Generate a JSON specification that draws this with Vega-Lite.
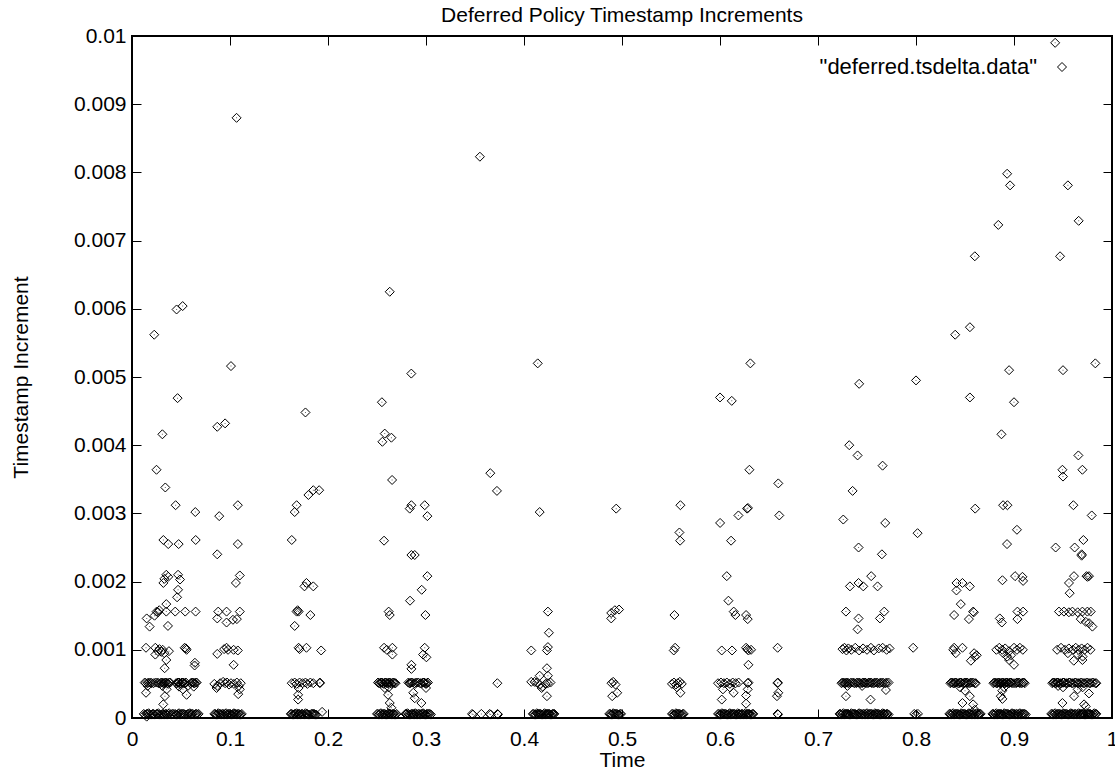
{
  "$schema": "https://vega.github.io/schema/vega-lite/v6.json",
  "width": 980,
  "height": 682,
  "autosize": {"type": "none"},
  "padding": {"left": 132, "top": 36, "right": 3, "bottom": 57},
  "background": "white",
  "config": {"view": {"stroke": "black", "strokeWidth": 2}, "font": "Liberation Sans"},
  "title": {"text": "Deferred Policy Timestamp Increments", "font": "Liberation Sans", "fontSize": 21, "fontWeight": "normal", "color": "black", "anchor": "middle", "baseline": "alphabetic", "offset": 3, "dy": 21},
  "data": {"values": [
    {"t":0.012,"d":0.00006},{"t":0.015,"d":0.00002},{"t":0.015,"d":0.00006},{"t":0.017,"d":0.00007},{"t":0.02,"d":0.00005},{"t":0.022,"d":0.00006},{"t":0.025,"d":0.00006},{"t":0.027,"d":0.00007},{"t":0.03,"d":0.00005},{"t":0.032,"d":0.00006},{"t":0.034,"d":0.00006},{"t":0.036,"d":0.00005},{"t":0.038,"d":0.00007},{"t":0.041,"d":0.00006},{"t":0.044,"d":0.00006},{"t":0.046,"d":0.00005},{"t":0.048,"d":0.00007},{"t":0.05,"d":0.00006},{"t":0.052,"d":0.00006},{"t":0.054,"d":0.00005},{"t":0.057,"d":0.00006},{"t":0.059,"d":0.00007},{"t":0.061,"d":0.00006},{"t":0.064,"d":0.00005},{"t":0.066,"d":0.00006},{"t":0.068,"d":0.00006},
    {"t":0.013,"d":0.00005},{"t":0.016,"d":0.00006},{"t":0.018,"d":0.00005},{"t":0.021,"d":0.00006},{"t":0.023,"d":0.00005},{"t":0.026,"d":0.00006},{"t":0.028,"d":0.00005},{"t":0.031,"d":0.00006},{"t":0.033,"d":0.00005},{"t":0.035,"d":0.00006},{"t":0.037,"d":0.00006},{"t":0.04,"d":0.00005},{"t":0.042,"d":0.00006},{"t":0.045,"d":0.00005},{"t":0.047,"d":0.00006},{"t":0.049,"d":0.00005},{"t":0.051,"d":0.00006},{"t":0.053,"d":0.00006},{"t":0.056,"d":0.00005},{"t":0.058,"d":0.00006},{"t":0.06,"d":0.00005},{"t":0.062,"d":0.00006},{"t":0.065,"d":0.00006},{"t":0.067,"d":0.00005},
    {"t":0.013,"d":0.00052},{"t":0.016,"d":0.00051},{"t":0.019,"d":0.00052},{"t":0.022,"d":0.00051},{"t":0.026,"d":0.00052},{"t":0.029,"d":0.00051},{"t":0.031,"d":0.00052},{"t":0.033,"d":0.00051},{"t":0.035,"d":0.00052},{"t":0.037,"d":0.0005},{"t":0.039,"d":0.00052},{"t":0.045,"d":0.00051},{"t":0.047,"d":0.00052},{"t":0.049,"d":0.0005},{"t":0.051,"d":0.00052},{"t":0.053,"d":0.00051},{"t":0.055,"d":0.00052},{"t":0.06,"d":0.00051},{"t":0.062,"d":0.00052},{"t":0.064,"d":0.00051},{"t":0.066,"d":0.00052},{"t":0.016,"d":0.00047},{"t":0.031,"d":0.00047},{"t":0.048,"d":0.00046},{"t":0.057,"d":0.00047},{"t":0.063,"d":0.00046},{"t":0.0143,"d":0.00037},{"t":0.0336,"d":0.00032},{"t":0.0319,"d":0.0002},{"t":0.0353,"d":0.00042},{"t":0.052,"d":0.00042},{"t":0.0557,"d":0.00034},
    {"t":0.014,"d":0.00051},{"t":0.017,"d":0.00052},{"t":0.02,"d":0.00051},{"t":0.024,"d":0.00052},{"t":0.027,"d":0.00051},{"t":0.03,"d":0.00052},{"t":0.032,"d":0.00051},{"t":0.034,"d":0.00052},{"t":0.036,"d":0.00051},{"t":0.038,"d":0.00052},{"t":0.046,"d":0.00051},{"t":0.048,"d":0.00052},{"t":0.05,"d":0.00051},{"t":0.052,"d":0.00052},{"t":0.054,"d":0.00051},{"t":0.061,"d":0.00052},{"t":0.063,"d":0.00051},{"t":0.065,"d":0.00052},
    {"t":0.0143,"d":0.00103},{"t":0.0238,"d":0.00103},{"t":0.0313,"d":0.001},{"t":0.0265,"d":0.00098},{"t":0.0238,"d":0.00093},{"t":0.0377,"d":0.00098},{"t":0.035,"d":0.00085},{"t":0.0333,"d":0.00073},{"t":0.0557,"d":0.001},{"t":0.0537,"d":0.00103},{"t":0.0642,"d":0.00081},{"t":0.0639,"d":0.00077},{"t":0.028,"d":0.00101},{"t":0.03,"d":0.00097},{"t":0.033,"d":0.00095},{"t":0.055,"d":0.00102},
    {"t":0.015,"d":0.00146},{"t":0.0251,"d":0.00156},{"t":0.0265,"d":0.00155},{"t":0.035,"d":0.00156},{"t":0.0441,"d":0.00156},{"t":0.0543,"d":0.00156},{"t":0.0649,"d":0.00156},{"t":0.018,"d":0.00134},{"t":0.0367,"d":0.00135},{"t":0.0278,"d":0.00158},{"t":0.023,"d":0.0015},
    {"t":0.035,"d":0.0021},{"t":0.037,"d":0.00207},{"t":0.032,"d":0.00198},{"t":0.047,"d":0.0021},{"t":0.049,"d":0.00203},{"t":0.047,"d":0.00188},{"t":0.046,"d":0.00177},{"t":0.035,"d":0.00167},{"t":0.033,"d":0.00204},
    {"t":0.032,"d":0.00261},{"t":0.037,"d":0.00255},{"t":0.0476,"d":0.00255},{"t":0.065,"d":0.00261},{"t":0.0445,"d":0.00312},{"t":0.0646,"d":0.00302},{"t":0.034,"d":0.00338},{"t":0.025,"d":0.00364},{"t":0.031,"d":0.00416},{"t":0.0227,"d":0.00562},{"t":0.0455,"d":0.00599},{"t":0.0517,"d":0.00604},{"t":0.0465,"d":0.00469},
    {"t":0.084,"d":0.00006},{"t":0.086,"d":0.00005},{"t":0.088,"d":0.00007},{"t":0.09,"d":0.00006},{"t":0.092,"d":0.00006},{"t":0.094,"d":0.00005},{"t":0.096,"d":0.00007},{"t":0.098,"d":0.00006},{"t":0.1,"d":0.00006},{"t":0.102,"d":0.00005},{"t":0.104,"d":0.00007},{"t":0.106,"d":0.00006},{"t":0.108,"d":0.00006},{"t":0.11,"d":0.00005},{"t":0.112,"d":0.00006},
    {"t":0.085,"d":0.00006},{"t":0.087,"d":0.00005},{"t":0.089,"d":0.00006},{"t":0.091,"d":0.00005},{"t":0.093,"d":0.00006},{"t":0.095,"d":0.00006},{"t":0.097,"d":0.00005},{"t":0.099,"d":0.00006},{"t":0.101,"d":0.00005},{"t":0.103,"d":0.00006},{"t":0.105,"d":0.00006},{"t":0.107,"d":0.00005},{"t":0.109,"d":0.00006},{"t":0.111,"d":0.00005},
    {"t":0.084,"d":0.0005},{"t":0.087,"d":0.00047},{"t":0.09,"d":0.00051},{"t":0.093,"d":0.00053},{"t":0.095,"d":0.00051},{"t":0.097,"d":0.00052},{"t":0.099,"d":0.00049},{"t":0.101,"d":0.00051},{"t":0.104,"d":0.0005},{"t":0.107,"d":0.00052},{"t":0.109,"d":0.00047},{"t":0.111,"d":0.00051},{"t":0.0863,"d":0.00044},{"t":0.1084,"d":0.00035},{"t":0.11,"d":0.00042},
    {"t":0.087,"d":0.00094},{"t":0.0965,"d":0.00103},{"t":0.098,"d":0.001},{"t":0.1037,"d":0.001},{"t":0.108,"d":0.00099},{"t":0.1037,"d":0.00078},{"t":0.094,"d":0.00101},
    {"t":0.088,"d":0.00156},{"t":0.0965,"d":0.00156},{"t":0.11,"d":0.00156},{"t":0.087,"d":0.00146},{"t":0.0965,"d":0.0014},{"t":0.103,"d":0.00144},{"t":0.107,"d":0.00145},
    {"t":0.11,"d":0.00209},{"t":0.106,"d":0.00198},{"t":0.108,"d":0.00312},{"t":0.089,"d":0.00296},{"t":0.108,"d":0.00255},{"t":0.087,"d":0.0024},{"t":0.087,"d":0.00427},{"t":0.095,"d":0.00432},{"t":0.101,"d":0.00516},{"t":0.1067,"d":0.0088},
    {"t":0.162,"d":0.00006},{"t":0.164,"d":0.00005},{"t":0.166,"d":0.00006},{"t":0.168,"d":0.00007},{"t":0.17,"d":0.00006},{"t":0.172,"d":0.00005},{"t":0.174,"d":0.00006},{"t":0.177,"d":0.00007},{"t":0.179,"d":0.00006},{"t":0.181,"d":0.00005},{"t":0.184,"d":0.00006},{"t":0.186,"d":0.00006},{"t":0.188,"d":0.00005},{"t":0.194,"d":0.00009},
    {"t":0.163,"d":0.00006},{"t":0.165,"d":0.00005},{"t":0.167,"d":0.00006},{"t":0.169,"d":0.00005},{"t":0.171,"d":0.00006},{"t":0.173,"d":0.00006},{"t":0.176,"d":0.00005},{"t":0.178,"d":0.00006},{"t":0.18,"d":0.00005},{"t":0.183,"d":0.00006},{"t":0.185,"d":0.00006},{"t":0.187,"d":0.00005},
    {"t":0.163,"d":0.00051},{"t":0.166,"d":0.00052},{"t":0.168,"d":0.0005},{"t":0.171,"d":0.00052},{"t":0.174,"d":0.00051},{"t":0.177,"d":0.00052},{"t":0.179,"d":0.0005},{"t":0.182,"d":0.00052},{"t":0.185,"d":0.00051},{"t":0.1917,"d":0.00052},{"t":0.1917,"d":0.00051},{"t":0.1695,"d":0.00034},{"t":0.1695,"d":0.00027},{"t":0.17,"d":0.00044},
    {"t":0.17,"d":0.00103},{"t":0.178,"d":0.00103},{"t":0.193,"d":0.00099},{"t":0.171,"d":0.00101},
    {"t":0.168,"d":0.00156},{"t":0.17,"d":0.00156},{"t":0.182,"d":0.00151},{"t":0.166,"d":0.00135},{"t":0.169,"d":0.00158},
    {"t":0.178,"d":0.00198},{"t":0.176,"d":0.00193},{"t":0.185,"d":0.00193},
    {"t":0.163,"d":0.00261},{"t":0.168,"d":0.00312},{"t":0.166,"d":0.00302},{"t":0.18,"d":0.00327},{"t":0.185,"d":0.00334},{"t":0.191,"d":0.00334},{"t":0.177,"d":0.00448},
    {"t":0.25,"d":0.00006},{"t":0.252,"d":0.00005},{"t":0.254,"d":0.00007},{"t":0.256,"d":0.00006},{"t":0.258,"d":0.00006},{"t":0.26,"d":0.00005},{"t":0.262,"d":0.00007},{"t":0.264,"d":0.00006},{"t":0.266,"d":0.00006},{"t":0.268,"d":0.00005},{"t":0.27,"d":0.00006},{"t":0.279,"d":0.00006},{"t":0.281,"d":0.00007},{"t":0.283,"d":0.00005},{"t":0.285,"d":0.00006},{"t":0.287,"d":0.00006},{"t":0.289,"d":0.00007},{"t":0.291,"d":0.00005},{"t":0.293,"d":0.00006},{"t":0.295,"d":0.00006},{"t":0.297,"d":0.00007},{"t":0.299,"d":0.00005},{"t":0.301,"d":0.00006},{"t":0.303,"d":0.00006},{"t":0.305,"d":0.00005},
    {"t":0.251,"d":0.00006},{"t":0.253,"d":0.00006},{"t":0.255,"d":0.00005},{"t":0.257,"d":0.00006},{"t":0.259,"d":0.00005},{"t":0.261,"d":0.00006},{"t":0.263,"d":0.00006},{"t":0.265,"d":0.00005},{"t":0.267,"d":0.00006},{"t":0.269,"d":0.00005},{"t":0.28,"d":0.00006},{"t":0.282,"d":0.00006},{"t":0.284,"d":0.00005},{"t":0.286,"d":0.00006},{"t":0.288,"d":0.00005},{"t":0.29,"d":0.00006},{"t":0.292,"d":0.00006},{"t":0.294,"d":0.00005},{"t":0.296,"d":0.00006},{"t":0.298,"d":0.00006},{"t":0.3,"d":0.00005},{"t":0.302,"d":0.00006},{"t":0.304,"d":0.00006},
    {"t":0.251,"d":0.00052},{"t":0.253,"d":0.00051},{"t":0.255,"d":0.00052},{"t":0.257,"d":0.0005},{"t":0.259,"d":0.00052},{"t":0.261,"d":0.00051},{"t":0.263,"d":0.00052},{"t":0.265,"d":0.0005},{"t":0.267,"d":0.00052},{"t":0.269,"d":0.00051},{"t":0.282,"d":0.00052},{"t":0.284,"d":0.00051},{"t":0.286,"d":0.00052},{"t":0.289,"d":0.0005},{"t":0.292,"d":0.00052},{"t":0.295,"d":0.00051},{"t":0.298,"d":0.00052},{"t":0.3,"d":0.0005},{"t":0.302,"d":0.00052},
    {"t":0.252,"d":0.00051},{"t":0.254,"d":0.00052},{"t":0.256,"d":0.00051},{"t":0.258,"d":0.00052},{"t":0.26,"d":0.00051},{"t":0.262,"d":0.00052},{"t":0.264,"d":0.00051},{"t":0.266,"d":0.00052},{"t":0.268,"d":0.00051},{"t":0.283,"d":0.00051},{"t":0.285,"d":0.00052},{"t":0.288,"d":0.00051},{"t":0.29,"d":0.00052},{"t":0.294,"d":0.00051},{"t":0.297,"d":0.00052},{"t":0.299,"d":0.00051},{"t":0.301,"d":0.00051},
    {"t":0.2613,"d":0.00034},{"t":0.263,"d":0.00022},{"t":0.2647,"d":0.00015},{"t":0.2885,"d":0.00029},{"t":0.2953,"d":0.00022},{"t":0.287,"d":0.00037},{"t":0.258,"d":0.00044},{"t":0.262,"d":0.00045},{"t":0.3,"d":0.00044},
    {"t":0.2572,"d":0.00103},{"t":0.2657,"d":0.00103},{"t":0.2657,"d":0.00093},{"t":0.2987,"d":0.00103},{"t":0.3004,"d":0.00089},{"t":0.297,"d":0.00093},{"t":0.2851,"d":0.00078},{"t":0.2851,"d":0.00072},{"t":0.26,"d":0.001},
    {"t":0.2619,"d":0.00156},{"t":0.263,"d":0.00151},{"t":0.2994,"d":0.00151},{"t":0.2837,"d":0.00172},{"t":0.2956,"d":0.00188},{"t":0.3014,"d":0.00208},
    {"t":0.2851,"d":0.00239},{"t":0.2885,"d":0.00239},{"t":0.2572,"d":0.0026},{"t":0.2851,"d":0.00312},{"t":0.2834,"d":0.00307},{"t":0.2987,"d":0.00312},{"t":0.3014,"d":0.00296},{"t":0.2654,"d":0.00349},{"t":0.2579,"d":0.00417},{"t":0.2647,"d":0.00411},{"t":0.2555,"d":0.00405},{"t":0.255,"d":0.00463},{"t":0.263,"d":0.00625},{"t":0.285,"d":0.00505},
    {"t":0.347,"d":0.00006},{"t":0.348,"d":0.00005},{"t":0.3565,"d":0.00006},{"t":0.365,"d":0.00006},{"t":0.366,"d":0.00005},{"t":0.373,"d":0.00006},{"t":0.3734,"d":0.00005},{"t":0.3728,"d":0.00051},{"t":0.3656,"d":0.00359},{"t":0.3724,"d":0.00333},{"t":0.355,"d":0.00823},
    {"t":0.409,"d":0.00006},{"t":0.411,"d":0.00005},{"t":0.413,"d":0.00007},{"t":0.415,"d":0.00006},{"t":0.417,"d":0.00006},{"t":0.419,"d":0.00005},{"t":0.421,"d":0.00007},{"t":0.423,"d":0.00006},{"t":0.425,"d":0.00006},{"t":0.427,"d":0.00005},{"t":0.429,"d":0.00006},{"t":0.431,"d":0.00006},
    {"t":0.41,"d":0.00006},{"t":0.412,"d":0.00005},{"t":0.414,"d":0.00006},{"t":0.416,"d":0.00006},{"t":0.418,"d":0.00005},{"t":0.42,"d":0.00006},{"t":0.422,"d":0.00005},{"t":0.424,"d":0.00006},{"t":0.426,"d":0.00006},{"t":0.428,"d":0.00005},{"t":0.43,"d":0.00006},
    {"t":0.4074,"d":0.00053},{"t":0.4108,"d":0.00053},{"t":0.416,"d":0.00049},{"t":0.419,"d":0.00046},{"t":0.4244,"d":0.00051},{"t":0.418,"d":0.00044},{"t":0.413,"d":0.00052},{"t":0.422,"d":0.0005},{"t":0.427,"d":0.00052},
    {"t":0.4234,"d":0.00032},{"t":0.416,"d":0.00062},{"t":0.4244,"d":0.00062},{"t":0.4234,"d":0.00073},{"t":0.4074,"d":0.00099},{"t":0.4244,"d":0.00104},{"t":0.4234,"d":0.00099},{"t":0.4254,"d":0.00125},{"t":0.4244,"d":0.00156},{"t":0.416,"d":0.00302},{"t":0.414,"d":0.0052},
    {"t":0.487,"d":0.00006},{"t":0.489,"d":0.00005},{"t":0.491,"d":0.00007},{"t":0.493,"d":0.00006},{"t":0.495,"d":0.00006},{"t":0.497,"d":0.00005},{"t":0.499,"d":0.00006},
    {"t":0.488,"d":0.00006},{"t":0.49,"d":0.00005},{"t":0.492,"d":0.00006},{"t":0.494,"d":0.00006},{"t":0.496,"d":0.00005},{"t":0.498,"d":0.00006},
    {"t":0.4893,"d":0.00051},{"t":0.4934,"d":0.00049},{"t":0.491,"d":0.00053},{"t":0.4951,"d":0.00037},{"t":0.49,"d":0.00032},
    {"t":0.489,"d":0.00154},{"t":0.4927,"d":0.00158},{"t":0.497,"d":0.00159},{"t":0.489,"d":0.00146},{"t":0.4941,"d":0.00307},
    {"t":0.551,"d":0.00006},{"t":0.553,"d":0.00005},{"t":0.555,"d":0.00007},{"t":0.557,"d":0.00006},{"t":0.559,"d":0.00006},{"t":0.561,"d":0.00005},{"t":0.563,"d":0.00006},
    {"t":0.552,"d":0.00006},{"t":0.554,"d":0.00005},{"t":0.556,"d":0.00006},{"t":0.558,"d":0.00006},{"t":0.56,"d":0.00005},{"t":0.562,"d":0.00006},
    {"t":0.551,"d":0.0005},{"t":0.553,"d":0.00052},{"t":0.555,"d":0.00049},{"t":0.557,"d":0.00051},{"t":0.559,"d":0.00053},{"t":0.561,"d":0.0005},{"t":0.5596,"d":0.00037},{"t":0.556,"d":0.00045},
    {"t":0.5542,"d":0.00103},{"t":0.5528,"d":0.00099},{"t":0.5535,"d":0.00151},{"t":0.5586,"d":0.00272},{"t":0.5593,"d":0.0026},{"t":0.5596,"d":0.00312},
    {"t":0.598,"d":0.00006},{"t":0.6,"d":0.00005},{"t":0.602,"d":0.00007},{"t":0.604,"d":0.00006},{"t":0.606,"d":0.00006},{"t":0.608,"d":0.00005},{"t":0.61,"d":0.00007},{"t":0.612,"d":0.00006},{"t":0.614,"d":0.00006},{"t":0.616,"d":0.00005},{"t":0.618,"d":0.00007},{"t":0.62,"d":0.00006},{"t":0.622,"d":0.00006},{"t":0.624,"d":0.00005},{"t":0.626,"d":0.00007},{"t":0.628,"d":0.00006},{"t":0.63,"d":0.00006},{"t":0.632,"d":0.00005},{"t":0.634,"d":0.00006},
    {"t":0.599,"d":0.00006},{"t":0.601,"d":0.00005},{"t":0.603,"d":0.00006},{"t":0.605,"d":0.00006},{"t":0.607,"d":0.00005},{"t":0.609,"d":0.00006},{"t":0.611,"d":0.00005},{"t":0.613,"d":0.00006},{"t":0.615,"d":0.00006},{"t":0.617,"d":0.00005},{"t":0.619,"d":0.00006},{"t":0.621,"d":0.00005},{"t":0.623,"d":0.00006},{"t":0.625,"d":0.00006},{"t":0.627,"d":0.00005},{"t":0.629,"d":0.00006},{"t":0.631,"d":0.00005},{"t":0.633,"d":0.00006},
    {"t":0.598,"d":0.00051},{"t":0.601,"d":0.00052},{"t":0.604,"d":0.00051},{"t":0.607,"d":0.00052},{"t":0.61,"d":0.0005},{"t":0.613,"d":0.00052},{"t":0.616,"d":0.00051},{"t":0.619,"d":0.00052},{"t":0.6283,"d":0.00051},{"t":0.629,"d":0.00052},
    {"t":0.603,"d":0.00042},{"t":0.6139,"d":0.00037},{"t":0.6283,"d":0.00042},{"t":0.6266,"d":0.00033},{"t":0.6018,"d":0.00027},{"t":0.6266,"d":0.00021},{"t":0.61,"d":0.00045},
    {"t":0.6018,"d":0.00099},{"t":0.6123,"d":0.00099},{"t":0.6266,"d":0.00103},{"t":0.629,"d":0.00099},{"t":0.6317,"d":0.001},{"t":0.628,"d":0.00101},{"t":0.629,"d":0.00078},
    {"t":0.614,"d":0.00156},{"t":0.6157,"d":0.00151},{"t":0.6266,"d":0.00151},{"t":0.6283,"d":0.00145},{"t":0.6086,"d":0.00172},{"t":0.6069,"d":0.00208},{"t":0.6113,"d":0.0026},{"t":0.6001,"d":0.00286},{"t":0.6188,"d":0.00297},{"t":0.6276,"d":0.00307},{"t":0.6285,"d":0.00308},{"t":0.63,"d":0.00364},{"t":0.6,"d":0.0047},{"t":0.612,"d":0.00465},{"t":0.631,"d":0.0052},
    {"t":0.6588,"d":0.00006},{"t":0.6592,"d":0.00005},{"t":0.6588,"d":0.00051},{"t":0.659,"d":0.00052},{"t":0.6595,"d":0.00037},{"t":0.6581,"d":0.00032},{"t":0.6588,"d":0.00103},{"t":0.6605,"d":0.00297},{"t":0.6595,"d":0.00344},
    {"t":0.722,"d":0.00006},{"t":0.724,"d":0.00005},{"t":0.726,"d":0.00007},{"t":0.728,"d":0.00006},{"t":0.73,"d":0.00006},{"t":0.732,"d":0.00005},{"t":0.734,"d":0.00007},{"t":0.736,"d":0.00006},{"t":0.738,"d":0.00006},{"t":0.74,"d":0.00005},{"t":0.742,"d":0.00007},{"t":0.744,"d":0.00006},{"t":0.746,"d":0.00006},{"t":0.748,"d":0.00005},{"t":0.75,"d":0.00007},{"t":0.752,"d":0.00006},{"t":0.754,"d":0.00006},{"t":0.756,"d":0.00005},{"t":0.758,"d":0.00007},{"t":0.76,"d":0.00006},{"t":0.762,"d":0.00006},{"t":0.764,"d":0.00005},{"t":0.766,"d":0.00007},{"t":0.768,"d":0.00006},{"t":0.77,"d":0.00006},{"t":0.772,"d":0.00005},
    {"t":0.723,"d":0.00006},{"t":0.725,"d":0.00006},{"t":0.727,"d":0.00005},{"t":0.729,"d":0.00006},{"t":0.731,"d":0.00006},{"t":0.733,"d":0.00005},{"t":0.735,"d":0.00006},{"t":0.737,"d":0.00006},{"t":0.739,"d":0.00005},{"t":0.741,"d":0.00006},{"t":0.743,"d":0.00006},{"t":0.745,"d":0.00005},{"t":0.747,"d":0.00006},{"t":0.749,"d":0.00006},{"t":0.751,"d":0.00005},{"t":0.753,"d":0.00006},{"t":0.755,"d":0.00006},{"t":0.757,"d":0.00005},{"t":0.759,"d":0.00006},{"t":0.761,"d":0.00006},{"t":0.763,"d":0.00005},{"t":0.765,"d":0.00006},{"t":0.767,"d":0.00006},{"t":0.769,"d":0.00005},{"t":0.771,"d":0.00006},
    {"t":0.724,"d":0.00051},{"t":0.726,"d":0.00052},{"t":0.728,"d":0.00051},{"t":0.73,"d":0.00052},{"t":0.733,"d":0.00051},{"t":0.736,"d":0.00052},{"t":0.739,"d":0.00051},{"t":0.742,"d":0.00052},{"t":0.745,"d":0.00051},{"t":0.748,"d":0.00052},{"t":0.751,"d":0.00051},{"t":0.754,"d":0.00052},{"t":0.757,"d":0.00051},{"t":0.76,"d":0.00052},{"t":0.763,"d":0.00051},{"t":0.766,"d":0.00052},{"t":0.769,"d":0.00051},{"t":0.772,"d":0.00052},
    {"t":0.725,"d":0.00052},{"t":0.727,"d":0.00051},{"t":0.729,"d":0.00052},{"t":0.731,"d":0.00051},{"t":0.734,"d":0.00052},{"t":0.737,"d":0.00051},{"t":0.74,"d":0.00052},{"t":0.743,"d":0.00051},{"t":0.746,"d":0.00052},{"t":0.749,"d":0.00051},{"t":0.752,"d":0.00052},{"t":0.755,"d":0.00051},{"t":0.758,"d":0.00052},{"t":0.761,"d":0.00051},{"t":0.764,"d":0.00052},{"t":0.767,"d":0.00051},{"t":0.77,"d":0.00052},
    {"t":0.7285,"d":0.00032},{"t":0.7536,"d":0.00027},{"t":0.7693,"d":0.00041},{"t":0.73,"d":0.00047},{"t":0.745,"d":0.00047},
    {"t":0.725,"d":0.00101},{"t":0.727,"d":0.00103},{"t":0.729,"d":0.00099},{"t":0.731,"d":0.00102},{"t":0.734,"d":0.001},{"t":0.738,"d":0.00103},{"t":0.742,"d":0.00099},{"t":0.746,"d":0.00102},{"t":0.75,"d":0.001},{"t":0.754,"d":0.00103},{"t":0.757,"d":0.00099},{"t":0.762,"d":0.00102},{"t":0.766,"d":0.00103},{"t":0.77,"d":0.001},{"t":0.773,"d":0.00102},
    {"t":0.7285,"d":0.00156},{"t":0.7414,"d":0.00146},{"t":0.7404,"d":0.0013},{"t":0.7676,"d":0.00156},{"t":0.7632,"d":0.00146},{"t":0.7326,"d":0.00193},{"t":0.7414,"d":0.00198},{"t":0.7462,"d":0.00193},{"t":0.7608,"d":0.00193},{"t":0.7543,"d":0.00208},{"t":0.7652,"d":0.0024},{"t":0.7414,"d":0.0025},{"t":0.7686,"d":0.00286},{"t":0.7258,"d":0.00291},{"t":0.7353,"d":0.00333},{"t":0.7659,"d":0.0037},{"t":0.7404,"d":0.00385},{"t":0.7319,"d":0.004},{"t":0.742,"d":0.0049},
    {"t":0.7982,"d":0.00006},{"t":0.8,"d":0.00005},{"t":0.802,"d":0.00006},{"t":0.7971,"d":0.00103},{"t":0.8016,"d":0.00271},{"t":0.8,"d":0.00495},
    {"t":0.834,"d":0.00006},{"t":0.836,"d":0.00005},{"t":0.838,"d":0.00007},{"t":0.84,"d":0.00006},{"t":0.842,"d":0.00006},{"t":0.844,"d":0.00005},{"t":0.846,"d":0.00007},{"t":0.848,"d":0.00006},{"t":0.85,"d":0.00006},{"t":0.852,"d":0.00005},{"t":0.854,"d":0.00007},{"t":0.856,"d":0.00006},{"t":0.858,"d":0.00006},{"t":0.86,"d":0.00005},{"t":0.862,"d":0.00007},{"t":0.864,"d":0.00006},{"t":0.866,"d":0.00006},
    {"t":0.835,"d":0.00006},{"t":0.837,"d":0.00006},{"t":0.839,"d":0.00005},{"t":0.841,"d":0.00006},{"t":0.843,"d":0.00006},{"t":0.845,"d":0.00005},{"t":0.847,"d":0.00006},{"t":0.849,"d":0.00006},{"t":0.851,"d":0.00005},{"t":0.853,"d":0.00006},{"t":0.855,"d":0.00006},{"t":0.857,"d":0.00005},{"t":0.859,"d":0.00006},{"t":0.861,"d":0.00006},{"t":0.863,"d":0.00005},{"t":0.865,"d":0.00006},
    {"t":0.835,"d":0.00051},{"t":0.837,"d":0.00052},{"t":0.839,"d":0.00051},{"t":0.841,"d":0.00052},{"t":0.844,"d":0.00051},{"t":0.846,"d":0.00052},{"t":0.849,"d":0.00051},{"t":0.852,"d":0.00052},{"t":0.855,"d":0.00051},{"t":0.858,"d":0.00052},{"t":0.861,"d":0.00051},
    {"t":0.836,"d":0.00052},{"t":0.838,"d":0.00051},{"t":0.84,"d":0.00052},{"t":0.843,"d":0.00051},{"t":0.845,"d":0.00052},{"t":0.848,"d":0.00051},{"t":0.85,"d":0.00052},{"t":0.853,"d":0.00051},{"t":0.856,"d":0.00052},{"t":0.86,"d":0.00051},
    {"t":0.8474,"d":0.00022},{"t":0.8549,"d":0.00032},{"t":0.8583,"d":0.0002},{"t":0.86,"d":0.00012},{"t":0.845,"d":0.00045},{"t":0.85,"d":0.0004},
    {"t":0.8389,"d":0.00103},{"t":0.8474,"d":0.00103},{"t":0.8406,"d":0.00095},{"t":0.8593,"d":0.00095},{"t":0.856,"d":0.00084},{"t":0.86,"d":0.0009},{"t":0.862,"d":0.00092},{"t":0.838,"d":0.001},
    {"t":0.8457,"d":0.00167},{"t":0.8389,"d":0.00151},{"t":0.854,"d":0.00145},{"t":0.8583,"d":0.00156},{"t":0.859,"d":0.00155},
    {"t":0.8413,"d":0.00198},{"t":0.8474,"d":0.00198},{"t":0.8549,"d":0.00193},{"t":0.8413,"d":0.00187},
    {"t":0.8604,"d":0.00307},{"t":0.84,"d":0.00562},{"t":0.855,"d":0.00573},{"t":0.86,"d":0.00677},{"t":0.855,"d":0.0047},
    {"t":0.878,"d":0.00006},{"t":0.88,"d":0.00005},{"t":0.882,"d":0.00007},{"t":0.884,"d":0.00006},{"t":0.886,"d":0.00006},{"t":0.888,"d":0.00005},{"t":0.89,"d":0.00007},{"t":0.892,"d":0.00006},{"t":0.894,"d":0.00006},{"t":0.896,"d":0.00005},{"t":0.898,"d":0.00007},{"t":0.9,"d":0.00006},{"t":0.902,"d":0.00006},{"t":0.904,"d":0.00005},{"t":0.906,"d":0.00007},{"t":0.908,"d":0.00006},{"t":0.91,"d":0.00006},{"t":0.912,"d":0.00005},
    {"t":0.879,"d":0.00006},{"t":0.881,"d":0.00006},{"t":0.883,"d":0.00005},{"t":0.885,"d":0.00006},{"t":0.887,"d":0.00006},{"t":0.889,"d":0.00005},{"t":0.891,"d":0.00006},{"t":0.893,"d":0.00006},{"t":0.895,"d":0.00005},{"t":0.897,"d":0.00006},{"t":0.899,"d":0.00006},{"t":0.901,"d":0.00005},{"t":0.903,"d":0.00006},{"t":0.905,"d":0.00006},{"t":0.907,"d":0.00005},{"t":0.909,"d":0.00006},{"t":0.911,"d":0.00006},
    {"t":0.879,"d":0.00051},{"t":0.881,"d":0.00052},{"t":0.883,"d":0.00051},{"t":0.885,"d":0.00052},{"t":0.887,"d":0.00051},{"t":0.889,"d":0.00052},{"t":0.891,"d":0.00051},{"t":0.893,"d":0.00052},{"t":0.895,"d":0.00051},{"t":0.897,"d":0.00052},{"t":0.9,"d":0.00051},{"t":0.903,"d":0.00052},{"t":0.906,"d":0.00051},{"t":0.909,"d":0.00052},{"t":0.911,"d":0.00051},
    {"t":0.88,"d":0.00052},{"t":0.882,"d":0.00051},{"t":0.884,"d":0.00052},{"t":0.886,"d":0.00051},{"t":0.888,"d":0.00052},{"t":0.89,"d":0.00051},{"t":0.892,"d":0.00052},{"t":0.894,"d":0.00051},{"t":0.896,"d":0.00052},{"t":0.898,"d":0.00051},{"t":0.902,"d":0.00051},{"t":0.905,"d":0.00052},{"t":0.908,"d":0.00051},{"t":0.91,"d":0.00052},
    {"t":0.8865,"d":0.00032},{"t":0.8882,"d":0.00028},{"t":0.89,"d":0.00045},{"t":0.888,"d":0.0004},
    {"t":0.882,"d":0.001},{"t":0.885,"d":0.00103},{"t":0.888,"d":0.001},{"t":0.891,"d":0.00102},{"t":0.895,"d":0.00098},{"t":0.9,"d":0.00103},{"t":0.903,"d":0.001},{"t":0.906,"d":0.00103},{"t":0.909,"d":0.001},{"t":0.889,"d":0.00095},{"t":0.893,"d":0.0009},{"t":0.895,"d":0.00085},{"t":0.9,"d":0.00078},{"t":0.897,"d":0.00092},
    {"t":0.8855,"d":0.00146},{"t":0.8876,"d":0.0014},{"t":0.9035,"d":0.00156},{"t":0.9093,"d":0.00156},{"t":0.9035,"d":0.00145},
    {"t":0.8882,"d":0.00202},{"t":0.9011,"d":0.00208},{"t":0.9086,"d":0.00207},{"t":0.9093,"d":0.00201},
    {"t":0.8929,"d":0.00255},{"t":0.903,"d":0.00276},{"t":0.8889,"d":0.00312},{"t":0.8933,"d":0.00312},{"t":0.8872,"d":0.00416},{"t":0.884,"d":0.00723},{"t":0.893,"d":0.00798},{"t":0.896,"d":0.00781},{"t":0.895,"d":0.0051},{"t":0.9,"d":0.00463},
    {"t":0.938,"d":0.00006},{"t":0.94,"d":0.00005},{"t":0.942,"d":0.00007},{"t":0.944,"d":0.00006},{"t":0.946,"d":0.00006},{"t":0.948,"d":0.00005},{"t":0.95,"d":0.00007},{"t":0.952,"d":0.00006},{"t":0.954,"d":0.00006},{"t":0.956,"d":0.00005},{"t":0.958,"d":0.00007},{"t":0.96,"d":0.00006},{"t":0.962,"d":0.00006},{"t":0.964,"d":0.00005},{"t":0.966,"d":0.00007},{"t":0.968,"d":0.00006},{"t":0.97,"d":0.00006},{"t":0.972,"d":0.00005},{"t":0.974,"d":0.00007},{"t":0.976,"d":0.00006},{"t":0.978,"d":0.00006},{"t":0.98,"d":0.00005},{"t":0.982,"d":0.00007},{"t":0.984,"d":0.00006},
    {"t":0.939,"d":0.00006},{"t":0.941,"d":0.00006},{"t":0.943,"d":0.00005},{"t":0.945,"d":0.00006},{"t":0.947,"d":0.00006},{"t":0.949,"d":0.00005},{"t":0.951,"d":0.00006},{"t":0.953,"d":0.00006},{"t":0.955,"d":0.00005},{"t":0.957,"d":0.00006},{"t":0.959,"d":0.00006},{"t":0.961,"d":0.00005},{"t":0.963,"d":0.00006},{"t":0.965,"d":0.00006},{"t":0.967,"d":0.00005},{"t":0.969,"d":0.00006},{"t":0.971,"d":0.00006},{"t":0.973,"d":0.00005},{"t":0.975,"d":0.00006},{"t":0.977,"d":0.00006},{"t":0.979,"d":0.00005},{"t":0.981,"d":0.00006},{"t":0.983,"d":0.00006},
    {"t":0.939,"d":0.00051},{"t":0.941,"d":0.00052},{"t":0.943,"d":0.00051},{"t":0.945,"d":0.00052},{"t":0.948,"d":0.00051},{"t":0.951,"d":0.00052},{"t":0.954,"d":0.00051},{"t":0.957,"d":0.00052},{"t":0.96,"d":0.00051},{"t":0.963,"d":0.00052},{"t":0.966,"d":0.00051},{"t":0.969,"d":0.00052},{"t":0.972,"d":0.00051},{"t":0.975,"d":0.00052},{"t":0.978,"d":0.00051},{"t":0.981,"d":0.00052},{"t":0.984,"d":0.00051},{"t":0.945,"d":0.00047},{"t":0.95,"d":0.00045},
    {"t":0.94,"d":0.00052},{"t":0.942,"d":0.00051},{"t":0.944,"d":0.00052},{"t":0.947,"d":0.00051},{"t":0.95,"d":0.00052},{"t":0.953,"d":0.00051},{"t":0.956,"d":0.00052},{"t":0.959,"d":0.00051},{"t":0.962,"d":0.00052},{"t":0.965,"d":0.00051},{"t":0.968,"d":0.00052},{"t":0.971,"d":0.00051},{"t":0.974,"d":0.00052},{"t":0.977,"d":0.00051},{"t":0.98,"d":0.00052},{"t":0.983,"d":0.00051},
    {"t":0.9494,"d":0.00022},{"t":0.9613,"d":0.00032},{"t":0.9715,"d":0.0002},{"t":0.9765,"d":0.00036},{"t":0.9732,"d":0.00017},{"t":0.965,"d":0.00042},{"t":0.97,"d":0.00045},
    {"t":0.944,"d":0.001},{"t":0.948,"d":0.00103},{"t":0.952,"d":0.001},{"t":0.956,"d":0.00102},{"t":0.96,"d":0.001},{"t":0.963,"d":0.00103},{"t":0.966,"d":0.001},{"t":0.969,"d":0.00102},{"t":0.972,"d":0.001},{"t":0.975,"d":0.00103},{"t":0.978,"d":0.001},{"t":0.961,"d":0.00084},{"t":0.9698,"d":0.00085},{"t":0.955,"d":0.00095},{"t":0.965,"d":0.00093},{"t":0.97,"d":0.0009},
    {"t":0.9459,"d":0.00156},{"t":0.951,"d":0.00156},{"t":0.9596,"d":0.00156},{"t":0.9698,"d":0.00156},{"t":0.9749,"d":0.00156},{"t":0.9783,"d":0.00156},{"t":0.9681,"d":0.00145},{"t":0.9732,"d":0.00141},{"t":0.98,"d":0.00134},{"t":0.9766,"d":0.00139},{"t":0.956,"d":0.00155},{"t":0.965,"d":0.00155},
    {"t":0.9612,"d":0.00208},{"t":0.9561,"d":0.00198},{"t":0.9568,"d":0.00183},{"t":0.974,"d":0.00208},{"t":0.9765,"d":0.00208},{"t":0.975,"d":0.00207},
    {"t":0.9425,"d":0.0025},{"t":0.9619,"d":0.0025},{"t":0.9708,"d":0.00261},{"t":0.9691,"d":0.0024},{"t":0.969,"d":0.00238},{"t":0.9606,"d":0.00312},{"t":0.9793,"d":0.00297},{"t":0.9494,"d":0.00364},{"t":0.95,"d":0.00354},{"t":0.9698,"d":0.00364},{"t":0.9657,"d":0.00385},
    {"t":0.942,"d":0.0099},{"t":0.947,"d":0.00677},{"t":0.95,"d":0.0051},{"t":0.955,"d":0.00781},{"t":0.966,"d":0.00729},{"t":0.983,"d":0.0052}
  ]},
  "layer": [
    {
      "mark": {"type": "point", "shape": "diamond", "size": 81, "filled": false, "color": "black", "strokeWidth": 1, "opacity": 1},
      "encoding": {
        "x": {"field": "t", "type": "quantitative", "scale": {"domain": [0, 1], "nice": false, "zero": false},
          "axis": {"orient": "bottom", "values": [0, 0.1, 0.2, 0.3, 0.4, 0.5, 0.6, 0.7, 0.8, 0.9, 1], "format": "~g", "tickSize": -9, "tickColor": "black", "tickWidth": 1, "domain": false, "grid": false, "labelFont": "Liberation Sans", "labelFontSize": 21, "labelColor": "black", "labelPadding": 19, "labelFlush": false, "labelOverlap": false, "title": "Time", "titleFont": "Liberation Sans", "titleFontSize": 21, "titleFontWeight": "normal", "titleColor": "black", "titlePadding": 0}},
        "y": {"field": "d", "type": "quantitative", "scale": {"domain": [0, 0.01], "nice": false, "zero": false},
          "axis": {"orient": "left", "values": [0, 0.001, 0.002, 0.003, 0.004, 0.005, 0.006, 0.007, 0.008, 0.009, 0.01], "format": "~g", "tickSize": -9, "tickColor": "black", "tickWidth": 1, "domain": false, "grid": false, "labelFont": "Liberation Sans", "labelFontSize": 21, "labelColor": "black", "labelPadding": 15, "labelFlush": false, "labelOverlap": false, "title": "Timestamp Increment", "titleFont": "Liberation Sans", "titleFontSize": 21, "titleFontWeight": "normal", "titleColor": "black", "titlePadding": 42}},
        "shape": {"datum": "\"deferred.tsdelta.data\"", "scale": {"range": ["diamond"]},
          "legend": {"orient": "none", "legendX": 919, "legendY": 20, "title": null, "padding": 0, "labelFont": "Liberation Sans", "labelFontSize": 22, "labelColor": "black", "labelAlign": "right", "labelOffset": -36, "labelLimit": 500, "symbolSize": 81, "symbolStrokeColor": "black", "symbolFillColor": "transparent", "symbolStrokeWidth": 1, "symbolType": "diamond"}}
      }
    },
    {
      "mark": {"type": "square", "size": 1, "color": "black", "opacity": 0.6},
      "encoding": {
        "x": {"field": "t", "type": "quantitative", "scale": {"domain": [0, 1], "nice": false, "zero": false},
          "axis": {"orient": "top", "values": [0, 0.1, 0.2, 0.3, 0.4, 0.5, 0.6, 0.7, 0.8, 0.9, 1], "labels": false, "tickSize": -9, "tickColor": "black", "tickWidth": 1, "domain": false, "grid": false, "title": null}},
        "y": {"field": "d", "type": "quantitative", "scale": {"domain": [0, 0.01], "nice": false, "zero": false},
          "axis": {"orient": "right", "values": [0, 0.001, 0.002, 0.003, 0.004, 0.005, 0.006, 0.007, 0.008, 0.009, 0.01], "labels": false, "tickSize": -9, "tickColor": "black", "tickWidth": 1, "domain": false, "grid": false, "title": null}}
      }
    }
  ],
  "resolve": {"axis": {"x": "independent", "y": "independent"}}
}
